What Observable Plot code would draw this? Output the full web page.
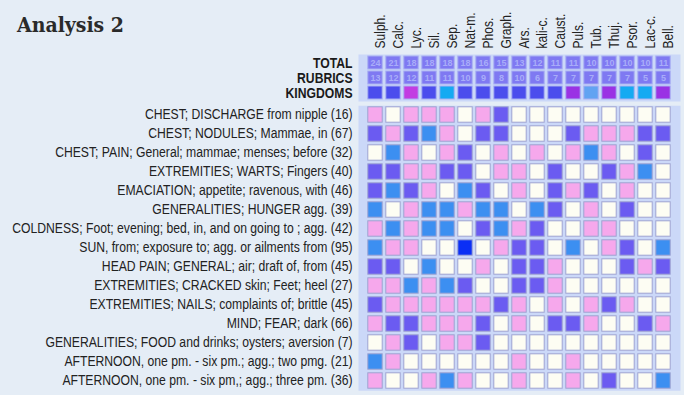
<!DOCTYPE html>
<html><head><meta charset="utf-8">
<script src="https://cdn.jsdelivr.net/npm/d3@7"></script>
<script src="https://cdn.jsdelivr.net/npm/@observablehq/plot@0.6"></script>
<style>
html,body{margin:0;padding:0;background:#e5edf6;}
#wrap{position:relative;width:684px;height:395px;overflow:hidden;background:#e5edf6;}
#title{position:absolute;left:17px;top:12px;font-family:"DejaVu Serif Condensed","DejaVu Serif",serif;font-weight:bold;font-size:21px;color:#2a2a2a;line-height:1.2;}
#wrap svg{display:block;}
</style></head><body><div id="wrap"><div id="title">Analysis 2</div></div>
<script>
const remedies = ["Sulph.","Calc.","Lyc.","Sil.","Sep.","Nat-m.","Phos.","Graph.","Ars.","kali-c.","Caust.","Puls.","Tub.","Thuj.","Psor.","Lac-c.","Bell."];
const totals = [24,21,18,18,18,18,16,15,13,12,11,11,10,10,10,10,11];
const rubricCounts = [13,12,12,11,11,10,9,8,10,6,7,7,7,7,7,5,5];
const kingdoms = ["Mineral","Mineral","Club moss","Mineral","Animal","Mineral","Mineral","Mineral","Mineral","Mineral","Mineral","Plant","Nosode","Plant","Animal","Animal","Plant"];
const headerRows = ["TOTAL","RUBRICS","KINGDOMS"];
const rubrics = [
 "CHEST; DISCHARGE from nipple (16)",
 "CHEST; NODULES; Mammae, in (67)",
 "CHEST; PAIN; General; mammae; menses; before (32)",
 "EXTREMITIES; WARTS; Fingers (40)",
 "EMACIATION; appetite; ravenous, with (46)",
 "GENERALITIES; HUNGER agg. (39)",
 "COLDNESS; Foot; evening; bed, in, and on going to ; agg. (42)",
 "SUN, from; exposure to; agg. or ailments from (95)",
 "HEAD PAIN; GENERAL; air; draft of, from (45)",
 "EXTREMITIES; CRACKED skin; Feet; heel (27)",
 "EXTREMITIES; NAILS; complaints of; brittle (45)",
 "MIND; FEAR; dark (66)",
 "GENERALITIES; FOOD and drinks; oysters; aversion (7)",
 "AFTERNOON, one pm. - six pm.; agg.; two pmg. (21)",
 "AFTERNOON, one pm. - six pm,; agg.; three pm. (36)"
];
// grade per rubric (rows) x remedy (columns): 0 none, 1..4
const grades = [
 [1,0,1,1,1,0,1,2,0,0,0,0,0,0,0,0,0],
 [2,1,2,3,1,0,2,2,0,0,0,2,1,1,1,2,2],
 [0,3,1,0,1,2,0,1,0,1,0,1,3,1,0,2,0],
 [2,2,1,1,2,2,0,1,1,0,2,0,0,2,1,3,0],
 [2,3,2,1,0,3,2,0,1,0,2,1,2,0,1,0,0],
 [3,0,1,3,3,1,3,3,0,3,2,0,1,0,2,0,0],
 [1,3,1,3,3,0,2,3,1,2,0,0,1,1,0,0,0],
 [3,1,1,0,0,4,0,1,2,2,0,3,0,1,2,0,3],
 [2,2,0,3,0,0,1,0,2,2,1,0,0,0,2,1,2],
 [1,1,3,1,3,2,0,0,2,2,1,0,0,0,0,0,0],
 [2,1,1,1,1,1,1,2,1,0,1,0,1,2,1,0,0],
 [1,2,2,1,1,1,2,0,1,0,2,2,1,0,0,2,1],
 [0,1,2,0,1,1,2,0,0,0,0,0,0,0,0,0,0],
 [3,1,0,0,0,0,0,0,1,0,0,1,0,0,0,0,0],
 [1,0,0,1,3,1,0,0,1,0,0,1,0,2,0,0,3]
];
const gradeColors = ["#fdfdf3","#f6a8ec","#6b5bf1","#3c8ff1","#0b2ff5"];
const kingdomNames = ["Mineral","Club moss","Plant","Animal","Nosode"];
const kingdomColors = ["#4b4ded","#c23de2","#9a32e4","#15aaf2","#62a3f2"];

const font = "'Liberation Sans Narrow','Arial Narrow','Liberation Sans',sans-serif";
const style = {fontFamily: font, fontSize: "14px", background: "transparent", color: "#222", overflow: "visible"};

const headerData = remedies.flatMap((r, i) => [
  {remedy: r, row: "TOTAL", kind: "num", value: totals[i]},
  {remedy: r, row: "RUBRICS", kind: "num", value: rubricCounts[i]},
  {remedy: r, row: "KINGDOMS", kind: kingdoms[i]}
]);

const header = Plot.plot({
  width: 684, height: 101, marginTop: 54, marginBottom: 0, marginLeft: 358, marginRight: 4,
  x: {domain: remedies, type: "band", padding: 0, axis: null},
  y: {domain: headerRows, type: "band", padding: 0, axis: null},
  color: {type: "ordinal", domain: ["num", ...kingdomNames], range: ["#7f79f2", ...kingdomColors]},
  style,
  marks: [
    Plot.frame({fill: "#cbd8f8", stroke: null}),
    Plot.cell(headerData, {x: "remedy", y: "row", fill: "kind", insetLeft: 1.8, insetRight: 1.8, insetTop: 1, insetBottom: 1, stroke: "#a9b0f2", strokeWidth: 1}),
    Plot.text(headerData.filter(d => d.kind === "num"), {x: "remedy", y: "row", text: "value", fill: "#a9adf9", fontSize: 9, fontWeight: "bold"}),
    Plot.text(remedies, {x: d => d, frameAnchor: "top", dy: -6, rotate: -90, textAnchor: "start", fontSize: 14, fill: "#222"}),
    Plot.text(headerRows, {y: d => d, frameAnchor: "left", dx: -6, textAnchor: "end", fontWeight: "bold", fontSize: 14.5, fill: "#1a1a1a"})
  ]
});

const cells = rubrics.flatMap((rb, j) => remedies.map((r, i) => ({rubric: rb, remedy: r, grade: grades[j][i]})));

const main = Plot.plot({
  width: 684, height: 294, marginTop: 4.25, marginBottom: 4.75, marginLeft: 358, marginRight: 4,
  x: {domain: remedies, type: "band", padding: 0, axis: null},
  y: {domain: rubrics, type: "band", padding: 0, axis: null},
  color: {type: "ordinal", domain: [0, 1, 2, 3, 4], range: gradeColors},
  style,
  marks: [
    Plot.frame({fill: "#cbd8f8", stroke: null}),
    Plot.cell(cells, {x: "remedy", y: "rubric", fill: "grade", insetLeft: 1.8, insetRight: 1.8, insetTop: 1.8, insetBottom: 1.8, stroke: "#9ea3d2", strokeWidth: 1}),
    Plot.axisY({tickSize: 0, tickPadding: 6, label: null, fontSize: 14})
  ]
});

// Narrow the sans text horizontally (no condensed face is installed)
function condense(texts, k) {
  texts.forEach(t => {
    let tr = t.getAttribute("transform");
    if (!tr) {
      const x = +t.getAttribute("x") || 0, y = +t.getAttribute("y") || 0;
      t.removeAttribute("x"); t.removeAttribute("y");
      tr = `translate(${x},${y})`;
    }
    t.setAttribute("transform", tr + ` scale(${k},1)`);
  });
}
const textGroups = header.querySelectorAll('g[aria-label="text"]');
condense(textGroups[1].querySelectorAll("text"), 0.86);
condense(textGroups[2].querySelectorAll("text"), 0.84);
condense(main.querySelectorAll('g[aria-label="y-axis tick label"] text'), 0.87);

const wrap = document.getElementById("wrap");
wrap.appendChild(header);
wrap.appendChild(main);
</script></body></html>
